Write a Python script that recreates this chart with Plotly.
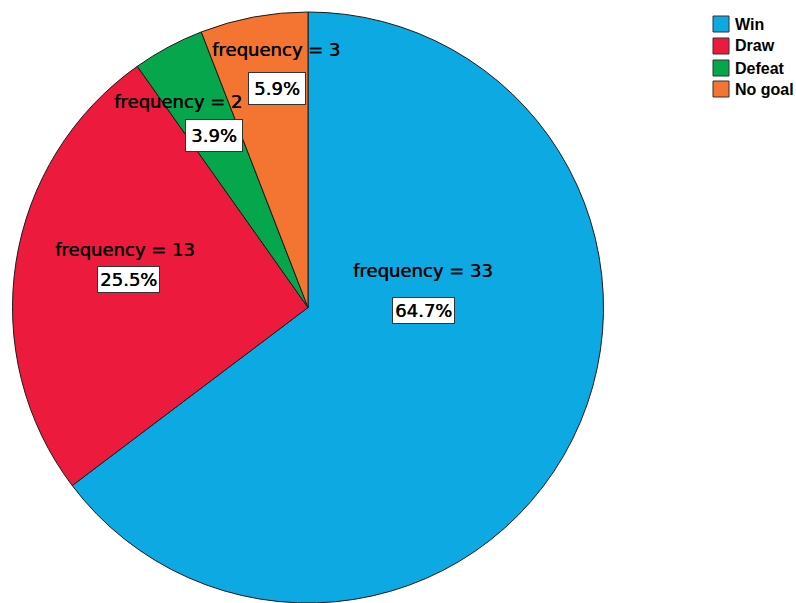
import plotly.graph_objects as go

# Match outcomes and their counts
categories = ["Win", "Draw", "Defeat", "No goal"]
frequencies = [33, 13, 2, 3]
colors = ["#0CA9E3", "#EC1B3D", "#06A64C", "#F47432"]

W, H = 796, 603
total = sum(frequencies)
percents = [f"{v / total * 100:.1f}%" for v in frequencies]

# Label placement inside each slice (pixel centres)
count_label_px = [(423, 270), (125, 249), (178, 101), (276, 50)]
pct_box_px = [(423, 310), (128, 279), (214, 135), (277, 88)]
pct_pad = [2, 2, 5, 5]

fig = go.Figure(
    go.Pie(
        labels=categories,
        values=frequencies,
        sort=False,
        direction="clockwise",
        rotation=0,
        textinfo="none",
        hoverinfo="label+value+percent",
        marker=dict(colors=colors, line=dict(color="#1a1a1a", width=1)),
        domain=dict(x=[12 / W, 604 / W], y=[0, 1 - 12 / H]),
        showlegend=False,
    )
)

def px(x, y):
    return x / W, 1 - y / H

annotations = []
label_font = dict(family="DejaVu Sans", size=18, color="#000000",
                  shadow="0.5px 0px 0px #000000")
for v, p, (lx, ly), (bx, by), pad in zip(frequencies, percents, count_label_px, pct_box_px, pct_pad):
    ax, ay = px(lx, ly)
    annotations.append(dict(
        x=ax, y=ay, xref="paper", yref="paper", text=f"frequency = {v}",
        showarrow=False, font=label_font, xanchor="center", yanchor="middle",
    ))
    bx_, by_ = px(bx, by)
    annotations.append(dict(
        x=bx_, y=by_, xref="paper", yref="paper", text=p,
        showarrow=False, font=label_font, xanchor="center", yanchor="middle",
        bgcolor="#ffffff", bordercolor="#333333", borderwidth=1, borderpad=pad,
    ))

# Legend drawn as swatches plus bold labels
shapes = []
row_y = [24, 46, 68, 89]
for name, col, ry in zip(categories, colors, row_y):
    shapes.append(dict(
        type="rect", xref="paper", yref="paper",
        x0=713 / W, x1=729 / W, y0=1 - (ry + 8) / H, y1=1 - (ry - 8) / H,
        fillcolor=col, line=dict(color="#333333", width=1),
    ))
    tx, ty = px(733, ry)
    annotations.append(dict(
        x=tx, y=ty, xref="paper", yref="paper", text=f"<b>{name}</b>",
        showarrow=False, xanchor="left", yanchor="middle",
        font=dict(family="Liberation Sans", size=16, color="#000000"),
    ))

fig.update_layout(
    width=W, height=H,
    margin=dict(l=0, r=0, t=0, b=0),
    paper_bgcolor="#ffffff", plot_bgcolor="#ffffff",
    annotations=annotations, shapes=shapes,
)

fig.write_html("out.html")
